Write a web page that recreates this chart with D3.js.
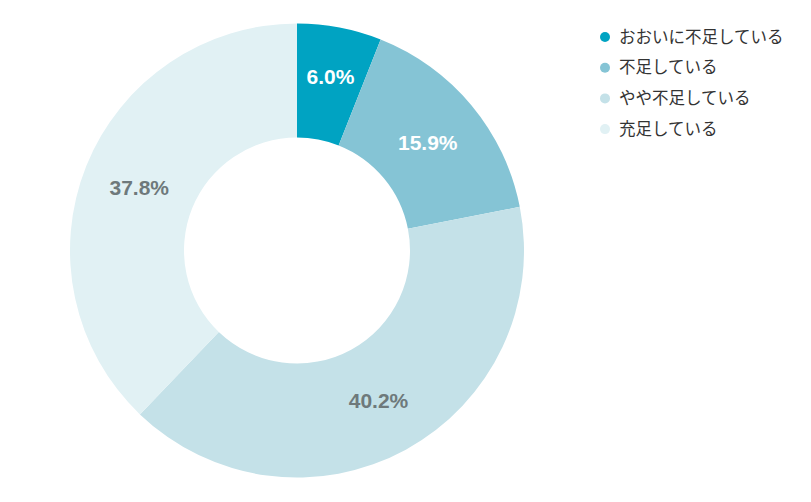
<!DOCTYPE html>
<html lang="ja">
<head>
<meta charset="UTF-8">
<script src="https://cdnjs.cloudflare.com/ajax/libs/d3/7.8.5/d3.min.js"></script>
<style>
  body { margin: 0; background: #fff; }
</style>
</head>
<body>
<div id="content"></div>
<script>
    const categories = ['おおいに不足している', '不足している', 'やや不足している', '充足している'];
    const values = [6.0, 15.9, 40.2, 37.8];
    const colors = ['#00a3c2', '#85c4d5', '#c4e1e8', '#e1f1f4'];
    const labelColors = ['#ffffff', '#ffffff', '#6e797b', '#6e797b'];

    const width = 811;
    const height = 502;
    const cx = 297;
    const cy = 250.5;
    const outerR = 227;
    const innerR = 113;

    const data = categories.map((c, i) => ({ name: c, value: values[i], i }));

    const svg = d3.select('#content')
        .append('svg')
        .attr('width', width)
        .attr('height', height);

    const pie = d3.pie().sort(null).value(d => d.value);
    const arc = d3.arc().innerRadius(innerR).outerRadius(outerR);
    const midR = (innerR + outerR) / 2;
    // narrow slices get their label pushed a little outward
    const labelPos = d => {
        const r = (d.endAngle - d.startAngle) < 0.5 ? midR + 8 : midR;
        return d3.arc().innerRadius(r).outerRadius(r).centroid(d);
    };

    const g = svg.append('g').attr('transform', `translate(${cx},${cy})`);
    const arcs = pie(data);

    //-Slices
    g.selectAll('path')
        .data(arcs)
        .enter()
        .append('path')
        .attr('d', arc)
        .style('fill', d => colors[d.data.i]);

    //-Labels
    g.selectAll('text')
        .data(arcs)
        .enter()
        .append('text')
        .attr('transform', d => `translate(${labelPos(d)})`)
        .attr('text-anchor', 'middle')
        .attr('dy', '0.38em')
        .style('font-family', 'Liberation Sans, Arial, sans-serif')
        .style('font-weight', 'bold')
        .style('font-size', '21px')
        .style('fill', d => labelColors[d.data.i])
        .text(d => d.data.value.toFixed(1) + '%');

    //-Legend
    const legend = svg.append('g').attr('transform', 'translate(605,37)');
    const items = legend.selectAll('g')
        .data(data)
        .enter()
        .append('g')
        .attr('transform', (d, i) => `translate(0,${i * 30.7})`);
    items.append('circle')
        .attr('r', 5)
        .style('fill', d => colors[d.i]);
    items.append('text')
        .attr('x', 14)
        .attr('dy', '0.35em')
        .style('font-family', 'Noto Sans CJK JP, sans-serif')
        .style('font-size', '16.5px')
        .style('fill', '#333')
        .text(d => d.name);
</script>
</body>
</html>
